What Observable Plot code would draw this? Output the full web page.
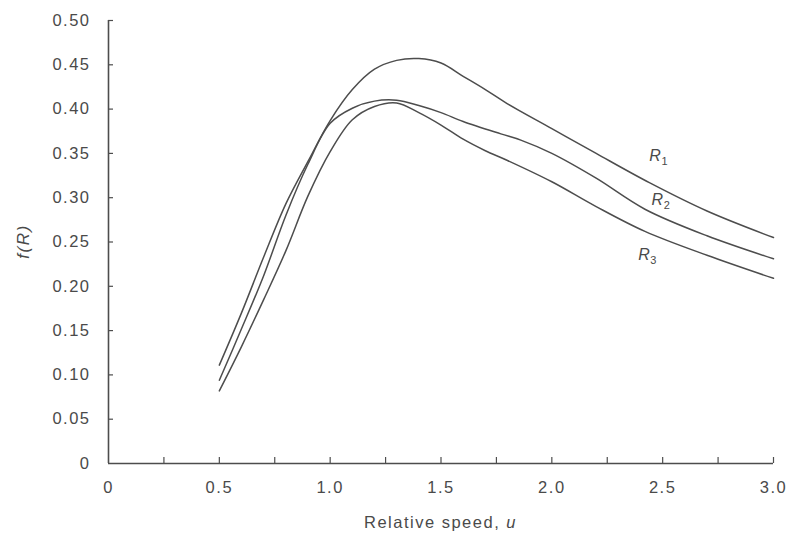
<!DOCTYPE html>
<html><head><meta charset="utf-8">
<script src="https://cdn.jsdelivr.net/npm/d3@7"></script>
<script src="https://cdn.jsdelivr.net/npm/@observablehq/plot@0.6"></script>
<style>
body{margin:0;background:#fff}
svg text{letter-spacing:1.5px}
</style>
</head><body><div id="chart"></div>
<script>
// Tick values and labels
const xTicks = [0, 0.5, 1, 1.5, 2, 2.5, 3];
const xTickLabels = ["0", "0.5", "1.0", "1.5", "2.0", "2.5", "3.0"];
const xMinorTicks = [0.25, 0.5, 0.75, 1, 1.25, 1.5, 1.75, 2, 2.25, 2.5, 2.75, 3];
const yTicks = [0, 0.05, 0.1, 0.15, 0.2, 0.25, 0.3, 0.35, 0.4, 0.45, 0.5];
const yMinorTicks = [0.05, 0.1, 0.15, 0.2, 0.25, 0.3, 0.35, 0.4, 0.45, 0.5];
const yTickLabels = ["0", "0.05", "0.10", "0.15", "0.20", "0.25", "0.30", "0.35", "0.40", "0.45", "0.50"];

// Series (relative speed u, f(R))
const R1 = [[0.5,0.111],[0.6,0.170],[0.7,0.233],[0.8,0.293],[0.9,0.341],[1.0,0.387],[1.1,0.422],[1.2,0.445],[1.3,0.455],[1.4,0.457],[1.5,0.452],[1.6,0.437],[1.7,0.422],[1.8,0.406],[2.0,0.378],[2.2,0.350],[2.44,0.317],[2.7,0.285],[3.0,0.255]];
const R2 = [[0.5,0.094],[0.6,0.152],[0.7,0.212],[0.8,0.280],[0.9,0.338],[1.0,0.384],[1.1,0.401],[1.2,0.409],[1.3,0.410],[1.4,0.404],[1.5,0.396],[1.6,0.386],[1.77,0.372],[1.86,0.365],[2.0,0.350],[2.2,0.322],[2.42,0.287],[2.7,0.257],[3.0,0.231]];
const R3 = [[0.5,0.082],[0.6,0.132],[0.7,0.185],[0.8,0.240],[0.9,0.302],[1.0,0.352],[1.1,0.388],[1.2,0.403],[1.3,0.407],[1.4,0.396],[1.5,0.382],[1.6,0.366],[1.7,0.353],[1.8,0.342],[2.0,0.318],[2.2,0.290],[2.42,0.262],[2.7,0.235],[3.0,0.209]];
const seriesNames = ["R1", "R2", "R3"];
const seriesData = [R1, R2, R3];

// Curve labels
const labelNames = ["R1", "R2", "R3"];
const labelU = [2.44, 2.45, 2.39];
const labelF = [0.347, 0.298, 0.236];

const lines = seriesData.flatMap((s, k) => s.map(([u, f]) => ({series: seriesNames[k], u, f})));
const labels = labelNames.map((n, i) => ({name: n, u: labelU[i], f: labelF[i]}));

const W = 791, H = 544, ML = 108, MR = 18, MT = 20, MB = 81;
const ink = "#4d4d4d";
const chart = Plot.plot({
  width: W, height: H,
  marginLeft: ML, marginRight: MR, marginTop: MT, marginBottom: MB,
  style: {fontFamily: "'Liberation Sans', Arial, sans-serif", fontSize: "16.5px", color: "#4a4a4a", background: "#fff"},
  x: {domain: [0, 3]},
  y: {domain: [0, 0.5]},
  marks: [
    Plot.ruleY([0], {stroke: ink, strokeWidth: 1.6}),
    Plot.ruleX([0], {stroke: ink, strokeWidth: 1.6}),
    Plot.tickX(xMinorTicks, {x: d => d, insetTop: H - MT - MB - 6, stroke: ink, strokeWidth: 1.2}),
    Plot.tickY(yMinorTicks, {y: d => d, insetRight: W - ML - MR - 5, stroke: ink, strokeWidth: 1.2}),
    Plot.axisX({ticks: xTicks, tickSize: 0, tickPadding: 18, tickFormat: d => xTickLabels[xTicks.indexOf(d)], label: null}),
    Plot.axisY({ticks: yTicks, tickSize: 0, tickPadding: 18, tickFormat: d => yTickLabels[yTicks.indexOf(d)], label: null}),
    Plot.line(lines, {x: "u", y: "f", z: "series", curve: "catmull-rom", stroke: ink, strokeWidth: 1.5}),
    Plot.text(labels, {x: "u", y: "f", text: "name", fontStyle: "italic", fontSize: 16, fill: "#4a4a4a", textAnchor: "start"})
  ]
});

const svg = d3.select(chart);
// Subscripts for curve labels
svg.selectAll("text").each(function() {
  const t = this.textContent;
  if (/^R\d$/.test(t) && this.childNodes.length === 1) {
    const el = d3.select(this);
    el.text(null).style("letter-spacing", "0.5px");
    el.append("tspan").text("R");
    el.append("tspan").attr("dy", 4).attr("font-size", 11).attr("font-style", "normal").text(t[1]);
  }
});
// Axis titles
const fx = chart.scale("x"), fy = chart.scale("y");
const xmid = (fx.range[0] + fx.range[1]) / 2;
const ymid = (fy.range[0] + fy.range[1]) / 2;
const xt = svg.append("text").attr("x", xmid).attr("y", 528).attr("text-anchor", "middle")
  .attr("fill", "#4a4a4a").attr("font-size", 16.5).attr("font-family", "'Liberation Sans', Arial, sans-serif");
xt.append("tspan").text("Relative speed, ");
xt.append("tspan").attr("font-style", "italic").text("u");
const yt = svg.append("text").attr("transform", `translate(29,${ymid}) rotate(-90)`).attr("text-anchor", "middle")
  .attr("fill", "#4a4a4a").attr("font-size", 17).attr("font-style", "italic").attr("font-family", "'Liberation Sans', Arial, sans-serif");
yt.text("f(R)");

document.getElementById("chart").appendChild(chart);
</script>
</body></html>
